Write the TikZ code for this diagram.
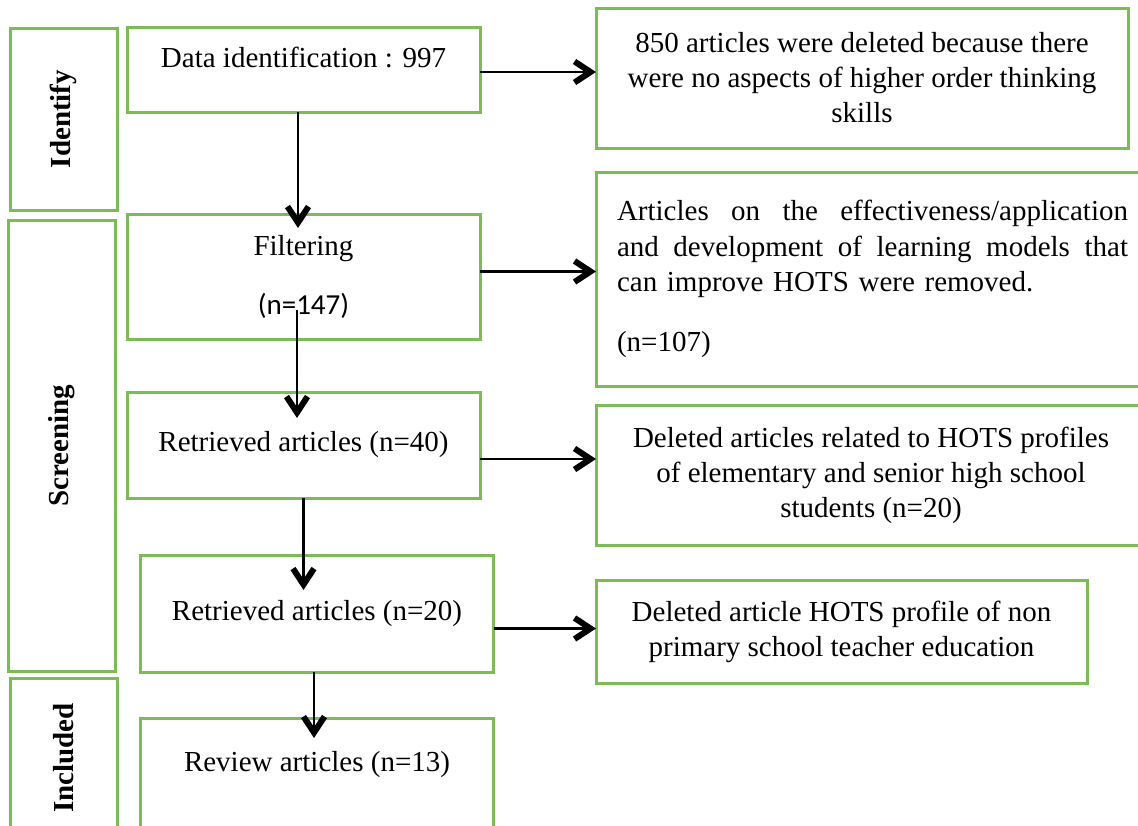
\documentclass[tikz,border=0pt]{standalone}
\usepackage{fontspec}
\setmainfont{Liberation Serif}
\newfontfamily\calfont{Carlito}
\usepackage{xcolor}
\usepackage{tikz}
\usetikzlibrary{arrows.meta, positioning}

\definecolor{boxgreen}{RGB}{125,186,88}

\begin{document}
\begin{tikzpicture}[
    x=0.5pt, y=-0.5pt,
    font=\fontsize{14.5}{17.5}\selectfont,
    stagebox/.style={rectangle, draw=boxgreen, line width=1.5pt, inner sep=0pt, outer sep=0pt, minimum width=53.5pt, font=\fontsize{14.5}{16}\selectfont\bfseries},
    rbox/.style={rectangle, draw=boxgreen, line width=1.5pt, inner sep=0pt, outer sep=0pt, align=center, minimum width=176.5pt},
    dbox/.style={rectangle, draw=boxgreen, line width=1.5pt, inner sep=0pt, outer sep=0pt, align=center},
    arr/.style={-{Straight Barb[length=8pt, width=10.5pt, line width=3pt]}, line width=1.1pt, black}
]
\useasboundingbox (0,0) rectangle (1138,825);
\clip (0,0) rectangle (1138,825);

% Stages
\node[stagebox, minimum height=91pt] (identify) at (63.5,119) {\rotatebox{90}{Identify}};
\node[stagebox, minimum height=225.5pt] (screening) at (62,446) {\rotatebox{90}{Screening}};
\node[stagebox, minimum height=80pt] (included) at (63.5,758) {\rotatebox{90}{Included}};

% Main flow
\node[rbox, minimum height=42.5pt, text depth=12.5pt] (data) at (303.5,69.5) {Data identification : 997};
\node[rbox, minimum height=62.5pt, font=\fontsize{14.5}{17.75}\selectfont] (filter) at (303.5,276.5) {Filtering\\[11.75pt]{\calfont (n=147)}};
\node[rbox, minimum height=53pt] (r40) at (303.5,445) {Retrieved articles (n=40)};
\node[rbox, minimum height=58.5pt] (r20) at (317,613.5) {Retrieved articles (n=20)};
\node[rbox, minimum height=58.5pt, text depth=15.5pt] (review) at (317,776.5) {Review articles (n=13)};

% Removed articles
\node[dbox, minimum width=266pt, minimum height=70pt] (del1) at (862,78) {850 articles were deleted because there\\were no aspects of higher order thinking\\skills};
\node[dbox, anchor=west, minimum height=107pt, inner xsep=10.5pt, text width=255.5pt, align=left, font=\fontsize{14.5}{17.75}\selectfont] (del2) at (596,279) {\leavevmode\hbox to 255.5pt{Articles\hfill on\hfill the\hfill effectiveness/application}\\\leavevmode\hbox to 255.5pt{and\hfill development\hfill of\hfill learning\hfill models\hfill that}\\can improve HOTS were removed.\\[12pt](n=107)};
\node[dbox, anchor=west, minimum width=275pt, minimum height=70pt] (del3) at (596,475) {Deleted articles related to HOTS profiles\\of elementary and senior high school\\students (n=20)};
\node[dbox, minimum width=245.5pt, minimum height=51.5pt] (del4) at (841.5,632) {Deleted article HOTS profile of non\\primary school teacher education};

% Flow arrows
\draw[arr] ([xshift=-2.75pt]data.south) -- ([xshift=-2.75pt, yshift=-7pt]data.south |- filter.north);
\draw[arr] ([xshift=-3.25pt, yshift=14.5pt]filter.south) -- ([xshift=-3.25pt, yshift=-13pt]filter.south |- r40.north);
\draw[arr] (r40.south) -- ([yshift=-17.5pt]r40.south |- r20.north);
\draw[arr] ([xshift=-1.5pt]r20.south) -- ([xshift=-1.5pt, yshift=-10pt]r20.south |- review.north);

% Removal arrows
\draw[arr] ([yshift=-1.25pt]data.east) -- ([yshift=-1.25pt]data.east -| del1.west);
\draw[arr] ([yshift=2.5pt]filter.east) -- ([yshift=2.5pt]filter.east -| del2.west);
\draw[arr] ([yshift=-7pt]r40.east) -- ([yshift=-7pt]r40.east -| del3.west);
\draw[arr] ([yshift=-7.5pt]r20.east) -- ([yshift=-7.5pt]r20.east -| del4.west);

\end{tikzpicture}
\end{document}
